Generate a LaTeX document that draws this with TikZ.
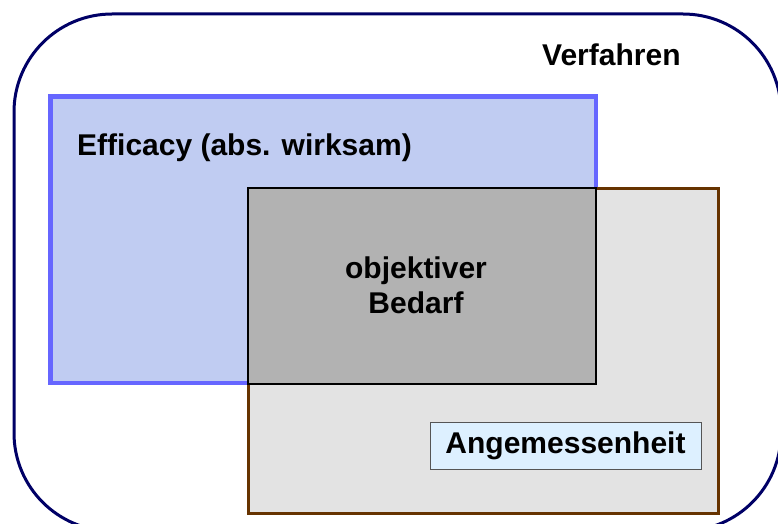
\documentclass[tikz,border=0pt]{standalone}
\usepackage{fontspec}
\setmainfont{Liberation Sans}
\usepackage{tikz}
\usetikzlibrary{positioning}

\definecolor{rahmen}{RGB}{0,0,102}
\definecolor{efffill}{RGB}{192,204,242}
\definecolor{effrand}{RGB}{102,102,255}
\definecolor{angfill}{RGB}{227,227,227}
\definecolor{angrand}{RGB}{102,51,0}
\definecolor{bedfill}{RGB}{178,178,178}
\definecolor{boxfill}{RGB}{221,240,255}
\definecolor{boxrand}{RGB}{85,85,85}

\tikzset{
  label/.style={inner sep=0pt, font=\bfseries\fontsize{30}{35}\selectfont},
}

\begin{document}
\begin{tikzpicture}[x=1pt, y=-1pt]
        \useasboundingbox (0,0) rectangle (778,524);
        \clip (0,0) rectangle (778,524);
        \draw[line width=3pt, rahmen, rounded corners=98pt](14,14) rectangle (781,531);
        \node[label, anchor=base west] (verfahren) at (542,66){Verfahren};
        \draw[line width=4.5pt, effrand, fill=efffill](50.5,96.5) rectangle (596,383);
        \node[label, anchor=base west] (efficacy) at (77,155){Efficacy (abs. wirksam)};
        \draw[line width=3pt, angrand, fill=angfill](248,188) rectangle (718,513);
        \draw[line width=2.5pt, black, fill=bedfill](248,188) rectangle (596,384);
        \node[label, align=center] (bedarf) at (416,285){objektiver\\Bedarf};
        \node[label, draw=boxrand, line width=1pt, fill=boxfill, minimum width=271pt, minimum height=47pt] (angemessen) at (565.5,445.5){Angemessenheit};
    \end{tikzpicture}
\end{document}
